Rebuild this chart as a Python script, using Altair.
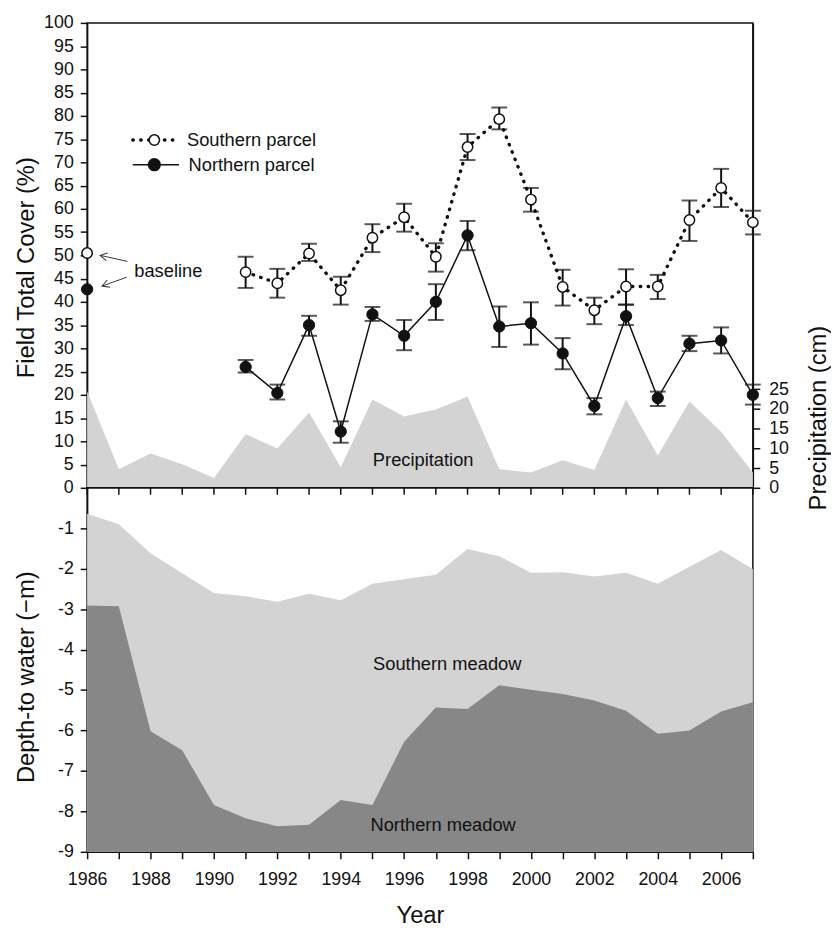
import altair as alt
import pandas as pd

# ---------------- data ----------------
years = list(range(1986, 2008))
cover_years = list(range(1991, 2008))

south_cover = [46.4, 44.0, 50.4, 42.5, 53.8, 58.2, 49.7, 73.3, 79.3, 62.0, 43.2, 38.2, 43.3, 43.3, 57.6, 64.5, 57.1]
south_hi = [49.7, 47.1, 52.5, 45.4, 56.7, 61.1, 52.6, 76.1, 81.8, 64.5, 46.9, 40.9, 47.0, 45.8, 61.8, 68.6, 59.6]
south_lo = [43.0, 40.9, 48.8, 39.4, 50.7, 55.1, 46.5, 70.5, 77.1, 59.4, 39.2, 35.2, 39.4, 40.6, 53.1, 60.4, 54.5]

north_cover = [26.0, 20.4, 35.0, 12.1, 37.3, 32.7, 40.0, 54.3, 34.7, 35.4, 28.9, 17.6, 36.9, 19.3, 31.0, 31.7, 20.0]
north_hi = [27.5, 22.2, 37.0, 14.3, 38.9, 36.1, 43.8, 57.4, 39.0, 39.9, 32.2, 19.3, 39.4, 20.7, 32.7, 34.5, 22.2]
north_lo = [24.8, 19.0, 32.7, 9.7, 35.9, 29.6, 36.1, 51.1, 30.3, 30.8, 25.5, 15.8, 35.0, 17.6, 29.4, 28.9, 17.9]

baseline_year = 1986
baseline_south = 50.5
baseline_north = 42.7

precip_cm = [24.5, 4.7, 8.7, 6.0, 2.5, 13.6, 10.0, 19.1, 5.2, 22.4, 18.1, 19.9,
             23.2, 4.7, 3.9, 7.0, 4.5, 22.4, 8.2, 21.9, 14.2, 3.9]

depth_south = [-0.64, -0.90, -1.62, -2.11, -2.60, -2.68, -2.82, -2.62, -2.78, -2.37, -2.26,
               -2.15, -1.51, -1.69, -2.10, -2.09, -2.19, -2.10, -2.37, -1.95, -1.54, -2.01]
depth_north = [-2.91, -2.93, -6.02, -6.49, -7.84, -8.17, -8.37, -8.33, -7.72, -7.84, -6.28,
               -5.43, -5.47, -4.88, -4.99, -5.10, -5.26, -5.51, -6.08, -6.00, -5.53, -5.30]

cover_ticks = list(range(0, 101, 5))
precip_ticks = [0, 5, 10, 15, 20, 25]
depth_ticks = [-1, -2, -3, -4, -5, -6, -7, -8, -9]

FONT = "Liberation Sans"
INK = "#111111"
LIGHT = "#d3d3d3"
DARK = "#878787"
TXT = 18.5

# ---------------- frames ----------------
south_df = pd.DataFrame({"year": cover_years, "value": south_cover, "lo": south_lo, "hi": south_hi})
north_df = pd.DataFrame({"year": cover_years, "value": north_cover, "lo": north_lo, "hi": north_hi})
south_pts = pd.DataFrame({"year": [baseline_year] + cover_years, "value": [baseline_south] + south_cover})
north_pts = pd.DataFrame({"year": [baseline_year] + cover_years, "value": [baseline_north] + north_cover})
err_df = pd.concat([south_df, north_df], ignore_index=True)
precip_df = pd.DataFrame({"year": years, "precip": precip_cm})
depth_df = pd.DataFrame({"year": years, "south": depth_south, "north": depth_north})

# annotations (data units)
legend_lines = pd.DataFrame({
    "year": [1987.44, 1988.9, 1987.44, 1988.9],
    "value": [74.8, 74.8, 69.5, 69.5],
    "series": ["S", "S", "N", "N"],
})
legend_pts = pd.DataFrame({"year": [1988.12, 1988.12], "value": [74.8, 69.5], "series": ["S", "N"]})
legend_txt = pd.DataFrame({"year": [1989.15, 1989.2], "value": [74.8, 69.5],
                           "label": ["Southern parcel", "Northern parcel"]})
base_txt = pd.DataFrame({"year": [1988.56], "value": [46.6], "label": ["baseline"]})
arrows = pd.DataFrame({"year": [1987.27, 1987.25], "value": [48.7, 45.3],
                       "year2": [1986.41, 1986.47], "value2": [50.0, 43.4], "ang": [192, 160]})
precip_txt = pd.DataFrame({"year": [1996.6], "precip": [7.1], "label": ["Precipitation"]})
meadow_txt = pd.DataFrame({"year": [1997.36, 1997.23], "depth": [-4.36, -8.33],
                           "label": ["Southern meadow", "Northern meadow"]})
tick_df = pd.DataFrame({"year": years})

# ---------------- encodings ----------------
xscale = alt.Scale(domain=[1986, 2007], nice=False, zero=False)
X_top = alt.X("year:Q", scale=xscale, axis=None)

cover_axis = alt.Axis(orient="left", values=cover_ticks, title="Field Total Cover (%)",
                      titleX=-61, titleY=247, titleBaseline="middle", titleAngle=270)
cover_scale = alt.Scale(domain=[0, 100], nice=False, zero=False)


def Yc(field):
    return alt.Y(f"{field}:Q", scale=cover_scale, axis=cover_axis)


precip_axis = alt.Axis(orient="right", values=precip_ticks, title="Precipitation (cm)",
                       titleAngle=270, titleX=66, titleY=399, titleBaseline="middle", labelPadding=9)
precip_scale = alt.Scale(domain=[0, 118], nice=False, zero=True)
Yp = alt.Y("precip:Q", scale=precip_scale, axis=precip_axis)

# ---------------- top panel ----------------
p_area = alt.Chart(precip_df).mark_area(color=LIGHT, opacity=1, interpolate="linear").encode(x=X_top, y=Yp)
p_text = alt.Chart(precip_txt).mark_text(font=FONT, fontSize=TXT, color=INK).encode(x=X_top, y=Yp, text="label:N")
precip_layer = alt.layer(p_area, p_text)

err_rule = alt.Chart(err_df).mark_rule(color=INK, strokeWidth=2).encode(
    x=X_top, y=Yc("lo"), y2="hi:Q")
cap_lo = alt.Chart(err_df).mark_tick(color=INK, orient="horizontal", size=16, thickness=2).encode(
    x=X_top, y=Yc("lo"))
cap_hi = alt.Chart(err_df).mark_tick(color=INK, orient="horizontal", size=16, thickness=2).encode(
    x=X_top, y=Yc("hi"))

s_line = alt.Chart(south_df).mark_line(color=INK, strokeWidth=3.4, strokeDash=[0.5, 7.5],
                                       strokeCap="round").encode(x=X_top, y=Yc("value"))
n_line = alt.Chart(north_df).mark_line(color=INK, strokeWidth=1.5).encode(x=X_top, y=Yc("value"))

s_pts = alt.Chart(south_pts).mark_point(shape="circle", filled=True, fill="white", stroke=INK,
                                        strokeWidth=1.5, size=110, opacity=1).encode(x=X_top, y=Yc("value"))
n_pts = alt.Chart(north_pts).mark_point(shape="circle", filled=True, fill=INK, stroke=INK,
                                        strokeWidth=1, size=130, opacity=1).encode(x=X_top, y=Yc("value"))

leg_s_line = alt.Chart(legend_lines).transform_filter("datum.series == 'S'").mark_line(
    color=INK, strokeWidth=3.4, strokeDash=[0.5, 7.5], strokeCap="round").encode(x=X_top, y=Yc("value"))
leg_n_line = alt.Chart(legend_lines).transform_filter("datum.series == 'N'").mark_line(
    color=INK, strokeWidth=1.5).encode(x=X_top, y=Yc("value"))
leg_s_pt = alt.Chart(legend_pts).transform_filter("datum.series == 'S'").mark_point(
    shape="circle", filled=True, fill="white", stroke=INK, strokeWidth=1.5, size=110, opacity=1).encode(
    x=X_top, y=Yc("value"))
leg_n_pt = alt.Chart(legend_pts).transform_filter("datum.series == 'N'").mark_point(
    shape="circle", filled=True, fill=INK, stroke=INK, size=130, opacity=1).encode(x=X_top, y=Yc("value"))
leg_txt = alt.Chart(legend_txt).mark_text(font=FONT, fontSize=TXT, color=INK, align="left",
                                          baseline="middle").encode(x=X_top, y=Yc("value"), text="label:N")

b_txt = alt.Chart(base_txt).mark_text(font=FONT, fontSize=TXT, color=INK, baseline="middle").encode(
    x=X_top, y=Yc("value"), text="label:N")
arr_shaft = alt.Chart(arrows).mark_rule(color="#333333", strokeWidth=1).encode(
    x=X_top, y=Yc("value"), x2="year2:Q", y2="value2:Q")
arr_head = alt.Chart(arrows).mark_point(shape="M-1,-0.55L0,0L-1,0.55", filled=False, stroke="#333333",
                                        strokeWidth=1, size=200, opacity=1).encode(
    x=alt.X("year2:Q", scale=xscale, axis=None), y=Yc("value2"), angle=alt.Angle("ang:Q", scale=None))

cover_layer = alt.layer(err_rule, cap_lo, cap_hi, s_line, n_line, s_pts, n_pts,
                        leg_s_line, leg_n_line, leg_s_pt, leg_n_pt, leg_txt,
                        arr_shaft, arr_head, b_txt)

top = alt.layer(precip_layer, cover_layer).resolve_scale(y="independent").properties(width=673, height=470)

# ---------------- bottom panel ----------------
X_bot = alt.X("year:Q", scale=xscale,
              axis=alt.Axis(values=years, format="d", title="Year",
                            labelExpr="datum.value % 2 == 0 ? datum.label : ''",
                            tickSize=7, labelPadding=12, titlePadding=15))
depth_scale = alt.Scale(domain=[-9, 0], nice=False, zero=False)
depth_axis = alt.Axis(values=depth_ticks, title="Depth-to water (\u2212m)",
                      labelExpr="'' + datum.value",
                      titleX=-61, titleY=191, titleBaseline="middle", titleAngle=270)


def Yd(field):
    return alt.Y(f"{field}:Q", scale=depth_scale, axis=depth_axis)


a_south = alt.Chart(depth_df).mark_area(color=LIGHT, opacity=1).encode(x=X_bot, y=Yd("south"), y2=alt.datum(-9))
a_north = alt.Chart(depth_df).mark_area(color=DARK, opacity=1).encode(x=X_bot, y=Yd("north"), y2=alt.datum(-9))
m_txt = alt.Chart(meadow_txt).mark_text(font=FONT, fontSize=TXT, color=INK, baseline="middle").encode(
    x=X_bot, y=Yd("depth"), text="label:N")
top_ticks = alt.Chart(tick_df).mark_rule(color=INK, strokeWidth=1.5).encode(
    x=X_bot, y=alt.value(0), y2=alt.value(7))

bottom = alt.layer(a_south, a_north, m_txt, top_ticks).properties(width=673, height=368)

chart = alt.vconcat(top, bottom, spacing=0, bounds="flush").properties(
    padding={"left": 6, "top": 0, "right": 0, "bottom": 0},
    background="white",
).configure_view(stroke=INK, strokeWidth=1.5).configure_axis(
    labelFont=FONT, labelFontSize=18, labelColor=INK, titleFont=FONT, titleFontSize=24,
    titleFontWeight="normal", titleColor=INK, domainColor=INK, domainWidth=1.5,
    tickColor=INK, tickWidth=1.5, tickSize=7, labelPadding=7, grid=False, zindex=1,
    labelFlush=False,
).configure_text(font=FONT)

chart.save("out.html", embed_options={"renderer": "svg", "actions": False})
